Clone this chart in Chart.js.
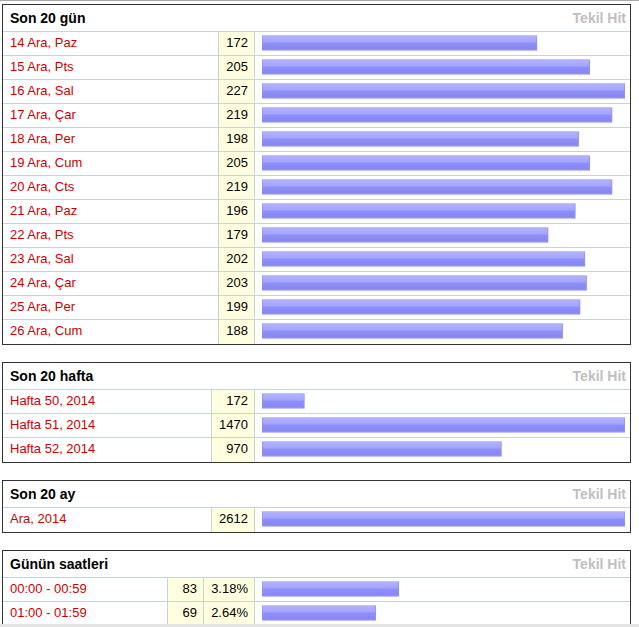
<!DOCTYPE html>
<html>
<head>
<meta charset="utf-8">
<script src="https://cdn.jsdelivr.net/npm/chart.js@4"></script>
<style>
  html, body { margin: 0; padding: 0; background: #fff; }
  body { width: 639px; height: 627px; position: relative; overflow: hidden;
         font: 13px "Liberation Sans", Arial, sans-serif; }
  .topline { position: absolute; left: 0; top: 0; width: 639px; height: 1px; background: #a8a8a8; }
  .bottomstrip { position: absolute; left: 0; top: 624px; width: 639px; height: 3px; background: #e4e4e4; z-index: 5; }
  .panel { position: absolute; left: 2px; width: 629px; box-sizing: border-box;
           border: 1px solid #333; background: #fff; }
  .head { height: 26px; line-height: 27px; border-bottom: 1px solid #c6d6d2; font-size: 14px;
          font-weight: bold; color: #000; padding-left: 7px; padding-right: 4px; position: relative; }
  .head .th { position: absolute; right: 4px; top: 0; color: #c0c0c0; }
  .row { display: flex; height: 23px; line-height: 22px; border-bottom: 1px solid #c6d6d2; }
  .row.last { height: 24px; line-height: 22px; border-bottom: none; }
  .c { box-sizing: border-box; height: 100%; border-right: 1px solid #c6d6d2; white-space: nowrap; }
  .lab { color: #cc0000; padding-left: 7px; }
  .num { background: #ffffe0; color: #000; text-align: right; padding-right: 6px; }
  .bar { border-right: none; flex: 1; }
  canvas { position: absolute; left: 252px; pointer-events: none; }
</style>
</head>
<body>
<div class="topline"></div>
<div class="bottomstrip"></div>
<div id="p1" class="panel" style="top:4px"></div>
<div id="p2" class="panel" style="top:362px"></div>
<div id="p3" class="panel" style="top:480px"></div>
<div id="p4" class="panel" style="top:550px; height:100px; border-bottom:none"></div>

<script>
// Son 20 gün
var dayLabels = ["14 Ara, Paz", "15 Ara, Pts", "16 Ara, Sal", "17 Ara, Çar", "18 Ara, Per",
                 "19 Ara, Cum", "20 Ara, Cts", "21 Ara, Paz", "22 Ara, Pts", "23 Ara, Sal",
                 "24 Ara, Çar", "25 Ara, Per", "26 Ara, Cum"];
var dayValues = [172, 205, 227, 219, 198, 205, 219, 196, 179, 202, 203, 199, 188];

// Son 20 hafta
var weekLabels = ["Hafta 50, 2014", "Hafta 51, 2014", "Hafta 52, 2014"];
var weekValues = [172, 1470, 970];

// Son 20 ay
var monthLabels = ["Ara, 2014"];
var monthValues = [2612];

// Günün saatleri (only the first two hours are visible)
var hourLabels = ["00:00 - 00:59", "01:00 - 01:59"];
var hourValues = [83, 69];
var hourPercents = ["3.18%", "2.64%"];
var hourMax = 220; // busiest hour

// give every bar its own two-tone gradient, from the bar's laid-out position
var gradientBars = {
    id: "gradientBars",
    beforeDatasetsDraw: function (chart) {
        var meta = chart.getDatasetMeta(0);
        meta.data.forEach(function (bar) {
            var half = bar.height / 2;
            var g = chart.ctx.createLinearGradient(0, bar.y - half, 0, bar.y + half);
            g.addColorStop(0, "#b4b4ff");
            g.addColorStop(0.45, "#a2a2ff");
            g.addColorStop(0.5, "#8e8ef8");
            g.addColorStop(1, "#8686f4");
            // copy so the bars do not share one options object
            bar.options = Object.assign({}, bar.options, { backgroundColor: g });
        });
    },
};

function buildPanel(id, title, cols, labels, columns, values, max) {
    var panel = document.getElementById(id);
    var html = '<div class="head">' + title + '<span class="th">Tekil Hit</span></div>';
    labels.forEach(function (lab, i) {
        var cls = (i === labels.length - 1 && id !== "p4") ? "row last" : "row";
        html += '<div class="' + cls + '">';
        html += '<div class="c lab" style="width:' + cols[0] + 'px">' + lab + '</div>';
        columns.forEach(function (col, k) {
            html += '<div class="c num" style="width:' + cols[k + 1] + 'px">' + col[i] + '</div>';
        });
        html += '<div class="c bar"></div></div>';
    });
    panel.innerHTML = html;

    var canvas = document.createElement("canvas");
    var h = labels.length * 24;
    canvas.width = 375;
    canvas.height = h;
    canvas.style.width = "375px";
    canvas.style.height = h + "px";
    canvas.style.top = "26px";
    panel.appendChild(canvas);

    new Chart(canvas, {
        type: "bar",
        data: {
            labels: labels,
            datasets: [{
                data: values,
                backgroundColor: "#9898fa",
                borderColor: "#9292f0",
                borderWidth: 1,
                borderSkipped: false,
                barThickness: 15,
            }],
        },
        options: {
            indexAxis: "y",
            responsive: false,
            animation: false,
            events: [],
            layout: { padding: { left: 7, right: 5, top: 0, bottom: 0 } },
            plugins: { legend: { display: false }, tooltip: { enabled: false } },
            scales: {
                x: { display: false, min: 0, max: max },
                y: { display: false },
            },
        },
        plugins: [gradientBars],
    });
}

buildPanel("p1", "Son 20 gün", [216, 36], dayLabels, [dayValues], dayValues, Math.max.apply(null, dayValues));
buildPanel("p2", "Son 20 hafta", [209, 43], weekLabels, [weekValues], weekValues, Math.max.apply(null, weekValues));
buildPanel("p3", "Son 20 ay", [209, 43], monthLabels, [monthValues], monthValues, Math.max.apply(null, monthValues));
buildPanel("p4", "Günün saatleri", [165, 36, 51], hourLabels, [hourValues, hourPercents], hourValues, hourMax);
</script>
</body>
</html>
